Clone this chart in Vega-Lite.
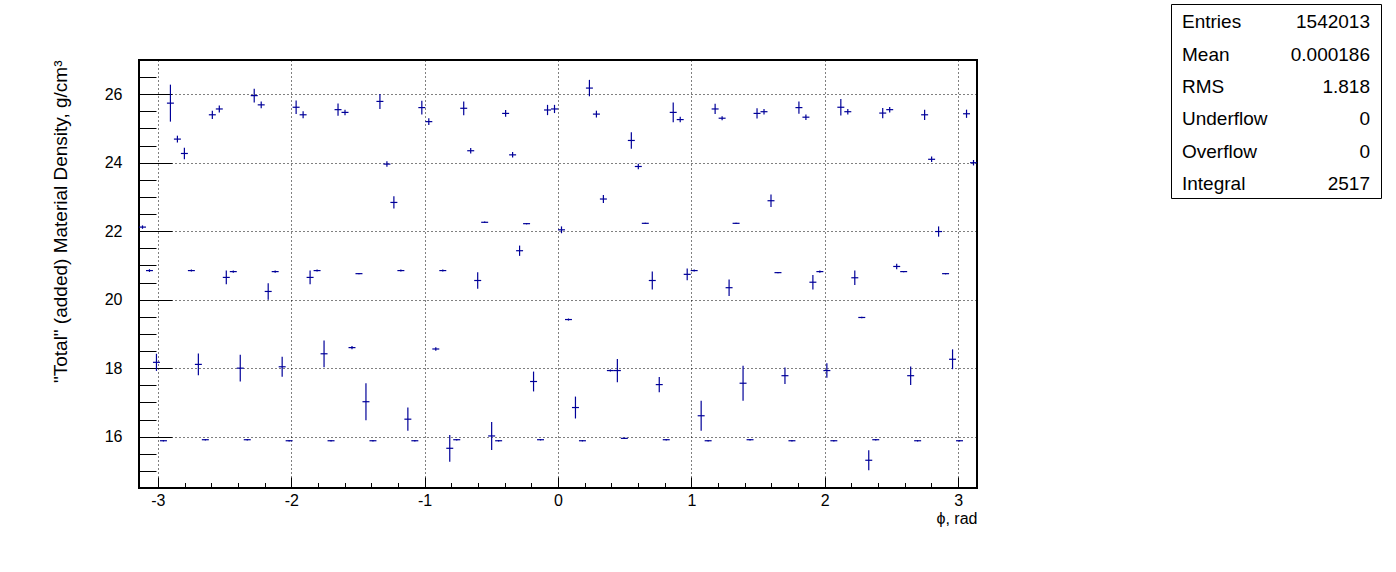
{
  "$schema": "https://vega.github.io/schema/vega-lite/v6.json",
  "background": "white",
  "padding": {"left": 50, "top": 3, "right": 10, "bottom": 10},
  "datasets": {
    "profile": [
      {"phi": -3.1154, "val": 22.12, "err": 0.05},
      {"phi": -3.0631, "val": 20.85, "err": 0.04},
      {"phi": -3.0107, "val": 18.17, "err": 0.25},
      {"phi": -2.9583, "val": 15.88, "err": 0.02},
      {"phi": -2.9060, "val": 25.74, "err": 0.54},
      {"phi": -2.8536, "val": 24.69, "err": 0.1},
      {"phi": -2.8013, "val": 24.27, "err": 0.17},
      {"phi": -2.7489, "val": 20.85, "err": 0.03},
      {"phi": -2.6965, "val": 18.11, "err": 0.32},
      {"phi": -2.6442, "val": 15.91, "err": 0.02},
      {"phi": -2.5918, "val": 25.40, "err": 0.12},
      {"phi": -2.5395, "val": 25.57, "err": 0.1},
      {"phi": -2.4871, "val": 20.65, "err": 0.2},
      {"phi": -2.4347, "val": 20.82, "err": 0.03},
      {"phi": -2.3824, "val": 18.00, "err": 0.39},
      {"phi": -2.3300, "val": 15.91, "err": 0.02},
      {"phi": -2.2777, "val": 25.96, "err": 0.2},
      {"phi": -2.2253, "val": 25.69, "err": 0.1},
      {"phi": -2.1729, "val": 20.24, "err": 0.24},
      {"phi": -2.1206, "val": 20.82, "err": 0.03},
      {"phi": -2.0682, "val": 18.04, "err": 0.29},
      {"phi": -2.0159, "val": 15.88, "err": 0.02},
      {"phi": -1.9635, "val": 25.62, "err": 0.2},
      {"phi": -1.9111, "val": 25.40, "err": 0.1},
      {"phi": -1.8588, "val": 20.65, "err": 0.2},
      {"phi": -1.8064, "val": 20.85, "err": 0.03},
      {"phi": -1.7541, "val": 18.42, "err": 0.39},
      {"phi": -1.7017, "val": 15.88, "err": 0.02},
      {"phi": -1.6493, "val": 25.55, "err": 0.18},
      {"phi": -1.5970, "val": 25.47, "err": 0.08},
      {"phi": -1.5446, "val": 18.60, "err": 0.05},
      {"phi": -1.4923, "val": 20.76, "err": 0.02},
      {"phi": -1.4399, "val": 17.02, "err": 0.54},
      {"phi": -1.3875, "val": 15.88, "err": 0.02},
      {"phi": -1.3352, "val": 25.79, "err": 0.22},
      {"phi": -1.2828, "val": 23.96, "err": 0.08},
      {"phi": -1.2305, "val": 22.84, "err": 0.18},
      {"phi": -1.1781, "val": 20.85, "err": 0.03},
      {"phi": -1.1257, "val": 16.51, "err": 0.34},
      {"phi": -1.0734, "val": 15.88, "err": 0.02},
      {"phi": -1.0210, "val": 25.61, "err": 0.2},
      {"phi": -0.9687, "val": 25.20, "err": 0.1},
      {"phi": -0.9163, "val": 18.56, "err": 0.05},
      {"phi": -0.8639, "val": 20.85, "err": 0.03},
      {"phi": -0.8116, "val": 15.66, "err": 0.39},
      {"phi": -0.7592, "val": 15.91, "err": 0.02},
      {"phi": -0.7069, "val": 25.59, "err": 0.2},
      {"phi": -0.6545, "val": 24.35, "err": 0.08},
      {"phi": -0.6021, "val": 20.56, "err": 0.24},
      {"phi": -0.5498, "val": 22.26, "err": 0.02},
      {"phi": -0.4974, "val": 16.02, "err": 0.41},
      {"phi": -0.4451, "val": 15.88, "err": 0.02},
      {"phi": -0.3927, "val": 25.44, "err": 0.1},
      {"phi": -0.3403, "val": 24.23, "err": 0.08},
      {"phi": -0.2880, "val": 21.43, "err": 0.15},
      {"phi": -0.2356, "val": 22.22, "err": 0.02},
      {"phi": -0.1833, "val": 17.61, "err": 0.29},
      {"phi": -0.1309, "val": 15.91, "err": 0.02},
      {"phi": -0.0785, "val": 25.54, "err": 0.15},
      {"phi": -0.0262, "val": 25.57, "err": 0.12},
      {"phi": 0.0262, "val": 22.04, "err": 0.1},
      {"phi": 0.0785, "val": 19.42, "err": 0.03},
      {"phi": 0.1309, "val": 16.85, "err": 0.32},
      {"phi": 0.1833, "val": 15.88, "err": 0.02},
      {"phi": 0.2356, "val": 26.18, "err": 0.24},
      {"phi": 0.2880, "val": 25.42, "err": 0.1},
      {"phi": 0.3403, "val": 22.94, "err": 0.12},
      {"phi": 0.3927, "val": 17.93, "err": 0.03},
      {"phi": 0.4451, "val": 17.93, "err": 0.34},
      {"phi": 0.4974, "val": 15.95, "err": 0.02},
      {"phi": 0.5498, "val": 24.65, "err": 0.24},
      {"phi": 0.6021, "val": 23.89, "err": 0.08},
      {"phi": 0.6545, "val": 22.23, "err": 0.02},
      {"phi": 0.7069, "val": 20.56, "err": 0.26},
      {"phi": 0.7592, "val": 17.52, "err": 0.22},
      {"phi": 0.8116, "val": 15.91, "err": 0.02},
      {"phi": 0.8639, "val": 25.47, "err": 0.29},
      {"phi": 0.9163, "val": 25.26, "err": 0.08},
      {"phi": 0.9687, "val": 20.74, "err": 0.17},
      {"phi": 1.0210, "val": 20.85, "err": 0.03},
      {"phi": 1.0734, "val": 16.61, "err": 0.44},
      {"phi": 1.1257, "val": 15.88, "err": 0.02},
      {"phi": 1.1781, "val": 25.57, "err": 0.15},
      {"phi": 1.2305, "val": 25.30, "err": 0.06},
      {"phi": 1.2828, "val": 20.35, "err": 0.24},
      {"phi": 1.3352, "val": 22.23, "err": 0.02},
      {"phi": 1.3875, "val": 17.56, "err": 0.51},
      {"phi": 1.4399, "val": 15.91, "err": 0.02},
      {"phi": 1.4923, "val": 25.44, "err": 0.15},
      {"phi": 1.5446, "val": 25.49, "err": 0.08},
      {"phi": 1.5970, "val": 22.89, "err": 0.18},
      {"phi": 1.6493, "val": 20.79, "err": 0.02},
      {"phi": 1.7017, "val": 17.78, "err": 0.24},
      {"phi": 1.7541, "val": 15.88, "err": 0.02},
      {"phi": 1.8064, "val": 25.61, "err": 0.18},
      {"phi": 1.8588, "val": 25.33, "err": 0.08},
      {"phi": 1.9111, "val": 20.51, "err": 0.21},
      {"phi": 1.9635, "val": 20.82, "err": 0.03},
      {"phi": 2.0159, "val": 17.93, "err": 0.21},
      {"phi": 2.0682, "val": 15.88, "err": 0.02},
      {"phi": 2.1206, "val": 25.62, "err": 0.24},
      {"phi": 2.1729, "val": 25.49, "err": 0.08},
      {"phi": 2.2253, "val": 20.64, "err": 0.21},
      {"phi": 2.2777, "val": 19.48, "err": 0.02},
      {"phi": 2.3300, "val": 15.31, "err": 0.29},
      {"phi": 2.3824, "val": 15.91, "err": 0.02},
      {"phi": 2.4347, "val": 25.45, "err": 0.15},
      {"phi": 2.4871, "val": 25.55, "err": 0.08},
      {"phi": 2.5395, "val": 20.97, "err": 0.08},
      {"phi": 2.5918, "val": 20.82, "err": 0.02},
      {"phi": 2.6442, "val": 17.78, "err": 0.27},
      {"phi": 2.6965, "val": 15.88, "err": 0.02},
      {"phi": 2.7489, "val": 25.40, "err": 0.15},
      {"phi": 2.8013, "val": 24.10, "err": 0.08},
      {"phi": 2.8536, "val": 21.99, "err": 0.15},
      {"phi": 2.9060, "val": 20.76, "err": 0.02},
      {"phi": 2.9583, "val": 18.26, "err": 0.29},
      {"phi": 3.0107, "val": 15.88, "err": 0.02},
      {"phi": 3.0631, "val": 25.43, "err": 0.12},
      {"phi": 3.1154, "val": 24.00, "err": 0.08}
    ],
    "stats": [
      {"stat": "Entries", "value": "1542013"},
      {"stat": "Mean", "value": "0.000186"},
      {"stat": "RMS", "value": "1.818"},
      {"stat": "Underflow", "value": "0"},
      {"stat": "Overflow", "value": "0"},
      {"stat": "Integral", "value": "2517"}
    ],
    "empty": []
  },
  "spacing": 191,
  "hconcat": [
    {
      "spacing": 0,
      "vconcat": [
        {
          "width": 838,
          "height": 54,
          "view": {"stroke": null},
          "data": {"name": "empty"},
          "mark": {"type": "text"},
          "encoding": {}
        },
        {
          "width": 838,
          "height": 428,
          "view": {"stroke": "black", "strokeWidth": 2},
          "data": {"name": "profile"},
          "transform": [
            {"calculate": "datum.phi - PI / 120", "as": "xlo"},
            {"calculate": "datum.phi + PI / 120", "as": "xhi"},
            {"calculate": "datum.val - datum.err", "as": "ylo"},
            {"calculate": "datum.val + datum.err", "as": "yhi"}
          ],
          "layer": [
            {
              "mark": {"type": "rule", "color": "#000099", "strokeWidth": 1.2},
              "encoding": {
                "x": {
                  "field": "xlo", "type": "quantitative",
                  "scale": {"domain": [-3.14159, 3.14159], "nice": false, "zero": false},
                  "axis": {
                    "title": "ϕ, rad",
                    "titleAnchor": "end",
                    "titleAlign": "right",
                    "titleFont": "Liberation Sans",
                    "titleFontSize": 16,
                    "titleFontWeight": "normal",
                    "titleColor": "black",
                    "titlePadding": -3,
                    "values": [-3, -2.8, -2.6, -2.4, -2.2, -2, -1.8, -1.6, -1.4, -1.2, -1, -0.8, -0.6, -0.4, -0.2, 0, 0.2, 0.4, 0.6, 0.8, 1, 1.2, 1.4, 1.6, 1.8, 2, 2.2, 2.4, 2.6, 2.8, 3],
                    "labelExpr": "abs(datum.value - round(datum.value)) < 0.001 ? toString(round(datum.value)) : ''",
                    "labelFont": "Liberation Sans Narrow, Liberation Sans",
                    "labelFontSize": 16,
                    "labelColor": "black",
                    "labelPadding": 15,
                    "labelOverlap": false,
                    "labelFlush": false,
                    "domain": false,
                    "tickColor": "black",
                    "tickWidth": 1,
                    "tickSize": {"condition": {"test": "abs(datum.value - round(datum.value)) < 0.001", "value": -11}, "value": -5.5},
                    "grid": true,
                    "gridColor": "black",
                    "gridDash": [1, 3],
                    "gridWidth": 1,
                    "gridOpacity": {"condition": {"test": "abs(datum.value - round(datum.value)) < 0.001", "value": 1}, "value": 0}
                  }
                },
                "x2": {"field": "xhi"},
                "y": {
                  "field": "val", "type": "quantitative",
                  "scale": {"domain": [14.5, 27], "nice": false, "zero": false},
                  "axis": {
                    "title": "\"Total\" (added) Material Density, g/cm³",
                    "titleAnchor": "end",
                    "titleFont": "Liberation Sans",
                    "titleFontSize": 19,
                    "titleFontWeight": "normal",
                    "titleColor": "black",
                    "titlePadding": 34,
                    "values": [15, 15.5, 16, 16.5, 17, 17.5, 18, 18.5, 19, 19.5, 20, 20.5, 21, 21.5, 22, 22.5, 23, 23.5, 24, 24.5, 25, 25.5, 26, 26.5],
                    "labelExpr": "datum.value % 2 == 0 ? toString(datum.value) : ''",
                    "labelFont": "Liberation Sans Narrow, Liberation Sans",
                    "labelFontSize": 16,
                    "labelColor": "black",
                    "labelPadding": 50,
                    "labelOverlap": false,
                    "domain": false,
                    "tickColor": "black",
                    "tickWidth": 1,
                    "tickSize": {"condition": {"test": "datum.value % 2 == 0", "value": -33}, "value": -17},
                    "grid": true,
                    "gridColor": "black",
                    "gridDash": [1, 3],
                    "gridWidth": 1,
                    "gridOpacity": {"condition": {"test": "datum.value % 2 == 0", "value": 1}, "value": 0}
                  }
                }
              }
            },
            {
              "mark": {"type": "rule", "color": "#000099", "strokeWidth": 1.2},
              "encoding": {
                "x": {"field": "phi", "type": "quantitative", "axis": null},
                "y": {"field": "ylo", "type": "quantitative", "axis": null},
                "y2": {"field": "yhi"}
              }
            }
          ],
          "resolve": {"axis": {"x": "independent", "y": "independent"}}
        }
      ]
    },
    {
      "width": 210,
      "height": 194,
      "view": {"stroke": "black", "strokeWidth": 1},
      "data": {"name": "stats"},
      "encoding": {
        "y": {"field": "stat", "type": "nominal", "sort": null, "axis": null, "scale": {"type": "point", "padding": 0.5}}
      },
      "layer": [
        {
          "mark": {"type": "text", "align": "left", "baseline": "middle", "x": 11, "dy": 2, "font": "Liberation Sans", "fontSize": 19, "color": "black"},
          "encoding": {"text": {"field": "stat"}}
        },
        {
          "mark": {"type": "text", "align": "right", "baseline": "middle", "x": 199, "dy": 2, "font": "Liberation Sans", "fontSize": 19, "color": "black"},
          "encoding": {"text": {"field": "value"}}
        }
      ]
    }
  ]
}
